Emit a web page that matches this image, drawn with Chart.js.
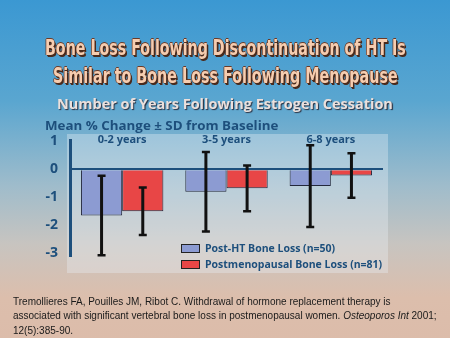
<!DOCTYPE html>
<html>
<head>
<meta charset="utf-8">
<script src="https://cdn.jsdelivr.net/npm/chart.js@4.4.1/dist/chart.umd.min.js"></script>
<style>
  html, body { margin: 0; padding: 0; }
  body {
    width: 450px; height: 338px; position: relative; overflow: hidden;
    background: linear-gradient(to bottom, #3b98d2 0%, #5aa6d0 30%, #9fbccb 55%, #c7c4c0 72%, #dcbeac 88%, #dcbcaa 100%);
    font-family: "Liberation Sans", Arial, sans-serif;
  }
  #chart { position: absolute; left: 0; top: 0; }
  .fit { position: absolute; white-space: nowrap; transform-origin: 0 50%; line-height: 1; }
  .title {
    font-family: "Liberation Sans Narrow", "DejaVu Sans Condensed", sans-serif;
    font-weight: bold; font-size: 21px; color: #f6cdb0;
    text-shadow: 1px 1px 0 #4a2a1c, 2px 2px 0 #4a2a1c, -1px 0 0 #6a3a28, 0 -1px 0 #6a3a28;
  }
  .sub {
    font-family: "Open Sans", sans-serif; font-weight: bold; font-size: 14px; color: #ece0dc;
    text-shadow: 1px 1px 1px #2a3040;
  }
  .ylab { font-family: "Open Sans", sans-serif; font-weight: bold; font-size: 13px; color: #1d4f7c; }
  #legend { position: absolute; left: 181px; top: 240px; font-family: "Open Sans", sans-serif;
    font-weight: bold; font-size: 10.5px; color: #1d4f7c; }
  #legend div { height: 16px; line-height: 16px; white-space: nowrap; }
  #legend span { display: inline-block; width: 17px; height: 7px; border: 1px solid #222;
    vertical-align: middle; margin-right: 5px; margin-top: -2px; }
  #cite { position: absolute; left: 13px; top: 295px; font-size: 10px; line-height: 14.3px;
    color: #1a1a1a; white-space: nowrap; }
</style>
</head>
<body>
<canvas id="chart" width="450" height="338"></canvas>
<div class="fit title" data-x="45" data-y="48" data-w="361">Bone Loss Following Discontinuation of HT Is</div>
<div class="fit title" data-x="53" data-y="76" data-w="345">Similar to Bone Loss Following Menopause</div>
<div class="fit sub" data-x="57" data-y="104" data-w="336">Number of Years Following Estrogen Cessation</div>
<div class="fit ylab" data-x="45" data-y="125" data-w="233">Mean % Change ± SD from Baseline</div>
<div id="legend"></div>
<div id="cite">Tremollieres FA, Pouilles JM, Ribot C. Withdrawal of hormone replacement therapy is<br>associated with significant vertebral bone loss in postmenopausal women. <i>Osteoporos Int</i> 2001;<br>12(5):385-90.</div>
<script>
// data
const groups = ['0-2 years', '3-5 years', '6-8 years'];
const seriesNames = ['Post-HT Bone Loss (n=50)', 'Postmenopausal Bone Loss (n=81)'];
const postHtMean = [-1.65, -0.8, -0.6];
const postHtSd = [1.42, 1.42, 1.46];
const postMenoMean = [-1.5, -0.68, -0.22];
const postMenoSd = [0.85, 0.82, 0.8];
const yTicks = [1, 0, -1, -2, -3];

const colors = {
  blue: '#8c9bd2',
  red: '#e84646',
  navy: '#1d4f7c',
  edge: '#23283c'
};

// squeeze the headings to their widths on the slide
document.querySelectorAll('.fit').forEach(el => {
  const w = el.scrollWidth, h = el.offsetHeight;
  el.style.left = el.dataset.x + 'px';
  el.style.top = (el.dataset.y - h / 2) + 'px';
  el.style.transform = 'scaleX(' + (el.dataset.w / w) + ')';
});

// faint panel behind the plot
const panelPlugin = {
  id: 'panel',
  beforeDraw(chart) {
    const { ctx, chartArea: a } = chart;
    ctx.save();
    ctx.fillStyle = 'rgba(235,240,245,0.35)';
    ctx.fillRect(a.left - 3, a.top - 6, a.right - a.left + 8, a.bottom - a.top + 23);
    ctx.restore();
  }
};

// group names across the top
const groupLabels = {
  id: 'groupLabels',
  afterDraw(chart) {
    const { ctx, chartArea: a } = chart;
    const x = chart.scales.x;
    ctx.save();
    ctx.font = 'bold 11px "Open Sans", sans-serif';
    ctx.fillStyle = colors.navy;
    ctx.textAlign = 'center';
    ctx.textBaseline = 'middle';
    groups.forEach((g, i) => ctx.fillText(g, x.getPixelForValue(i), a.top));
    ctx.restore();
  }
};

// SD whiskers
const sds = [postHtSd, postMenoSd];
const errorBars = {
  id: 'errorBars',
  afterDatasetsDraw(chart) {
    const { ctx } = chart;
    const y = chart.scales.y;
    ctx.save();
    ctx.strokeStyle = '#111';
    chart.data.datasets.forEach((ds, di) => {
      chart.getDatasetMeta(di).data.forEach((bar, i) => {
        const hi = y.getPixelForValue(ds.data[i] + sds[di][i]);
        const lo = y.getPixelForValue(ds.data[i] - sds[di][i]);
        ctx.lineWidth = 3;
        ctx.beginPath();
        ctx.moveTo(bar.x, hi); ctx.lineTo(bar.x, lo);
        ctx.stroke();
        ctx.lineWidth = 2.5;
        ctx.beginPath();
        ctx.moveTo(bar.x - 4, hi); ctx.lineTo(bar.x + 4, hi);
        ctx.moveTo(bar.x - 4, lo); ctx.lineTo(bar.x + 4, lo);
        ctx.stroke();
      });
    });
    ctx.restore();
  }
};

const chart = new Chart(document.getElementById('chart'), {
  type: 'bar',
  data: {
    labels: groups,
    datasets: [{
      label: seriesNames[0],
      data: postHtMean,
      backgroundColor: colors.blue,
      borderColor: colors.edge,
      borderWidth: 1
    }, {
      label: seriesNames[1],
      data: postMenoMean,
      backgroundColor: colors.red,
      borderColor: colors.edge,
      borderWidth: 1
    }]
  },
  options: {
    responsive: false,
    animation: false,
    layout: { padding: { left: 0, right: 67, top: 140, bottom: 82 } },
    datasets: { bar: { categoryPercentage: 0.79, barPercentage: 1 } },
    plugins: { legend: { display: false }, tooltip: { enabled: false } },
    scales: {
      x: { display: false },
      y: {
        min: -3.1,
        max: 1.05,
        afterFit: s => { s.width = 70; },
        afterBuildTicks: s => { s.ticks = yTicks.map(v => ({ value: v })); },
        border: { display: true, color: colors.navy, width: 3 },
        grid: {
          drawTicks: false,
          color: c => c.tick && c.tick.value === 0 ? colors.navy : 'rgba(0,0,0,0)',
          lineWidth: 2
        },
        ticks: {
          padding: 12,
          color: colors.navy,
          font: { family: '"Open Sans", sans-serif', weight: 'bold', size: 14 }
        }
      }
    }
  },
  plugins: [panelPlugin, groupLabels, errorBars]
});

// legend
const legend = document.getElementById('legend');
chart.data.datasets.forEach(ds => {
  const row = document.createElement('div');
  row.innerHTML = '<span style="background:' + ds.backgroundColor + '"></span>' + ds.label;
  legend.appendChild(row);
});
</script>
</body>
</html>
